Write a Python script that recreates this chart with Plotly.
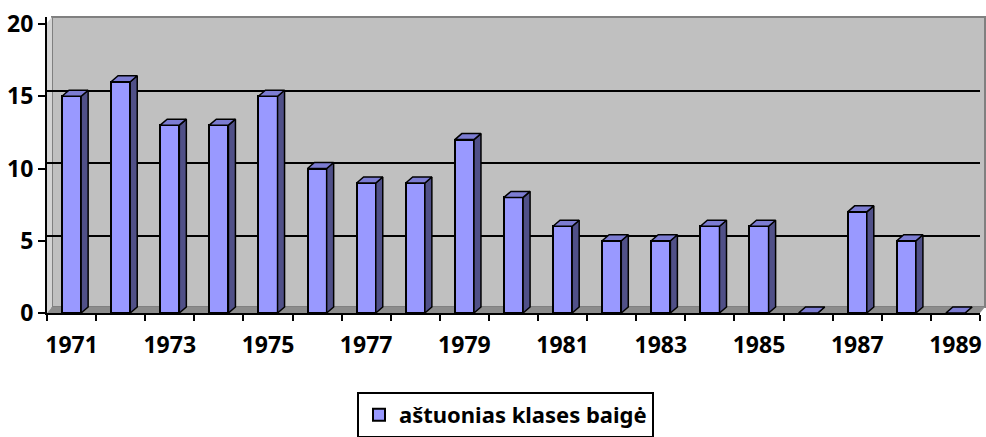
import plotly.graph_objects as go

years = [1971, 1972, 1973, 1974, 1975, 1976, 1977, 1978, 1979, 1980,
         1981, 1982, 1983, 1984, 1985, 1986, 1987, 1988, 1989]
values = [15, 16, 13, 13, 15, 10, 9, 9, 12, 8, 6, 5, 5, 6, 6, 0, 7, 5, 0]
y_ticks = [0, 5, 10, 15, 20]
series_name = "aštuonias klases baigė"

FIG_W, FIG_H = 986, 437

# geometry (pixels) of the plot area
L, R, T, B = 47, 980, 17, 313
W, H = R - L, B - T
PX_PER_UNIT = 14.45
YMAX = H / PX_PER_UNIT
DEPTH_X = 7 / (W / len(years))   # 3D depth in category units
DEPTH_Y = 6 / PX_PER_UNIT        # 3D depth in value units
BAR_W = 0.39

FRONT = "#9999FF"
TOP = "#7C7CD2"
SIDE = "#505088"

def px(x):
    return (x - L) / W

def py(y):
    return (B - y) / H

idx = list(range(len(years)))

# side and top faces built from the data
top_x, top_y, side_x, side_y = [], [], [], []
for i, v in zip(idx, values):
    x0, x1 = i - BAR_W / 2, i + BAR_W / 2
    top_x += [x0, x1, x1 + DEPTH_X, x0 + DEPTH_X, x0, None]
    top_y += [v, v, v + DEPTH_Y, v + DEPTH_Y, v, None]
    side_x += [x1, x1 + DEPTH_X, x1 + DEPTH_X, x1, x1, None]
    side_y += [0, DEPTH_Y, v + DEPTH_Y, v, 0, None]

fig = go.Figure()
fig.add_trace(go.Scatter(x=[None], y=[None], yaxis="y2", showlegend=False,
                         hoverinfo="skip", mode="none"))
fig.add_trace(go.Scatter(x=side_x, y=side_y, mode="lines", fill="toself",
                         fillcolor=SIDE, line=dict(color="black", width=1.5),
                         showlegend=False, hoverinfo="skip"))
fig.add_trace(go.Scatter(x=top_x, y=top_y, mode="lines", fill="toself",
                         fillcolor=TOP, line=dict(color="black", width=1.5),
                         showlegend=False, hoverinfo="skip"))
fig.add_trace(go.Bar(x=idx, y=values, width=BAR_W, name=series_name,
                     marker=dict(color=FRONT, line=dict(color="black", width=2))))

shapes = [
    # back wall
    dict(type="rect", xref="paper", yref="paper",
         x0=px(52), x1=px(985), y0=py(307), y1=py(17),
         fillcolor="#C0C0C0", line=dict(color="#808080", width=2), layer="below"),
    # left side wall
    dict(type="path", xref="paper", yref="paper",
         path=f"M {px(47)},{py(313)} L {px(52)},{py(307)} L {px(52)},{py(17)} L {px(47)},{py(23)} Z",
         fillcolor="#D4D4D4", line=dict(width=0), layer="below"),
    # floor
    dict(type="path", xref="paper", yref="paper",
         path=f"M {px(47)},{py(313)} L {px(52)},{py(307)} L {px(985)},{py(307)} L {px(980)},{py(313)} Z",
         fillcolor="#8C8C8C", line=dict(width=0), layer="below"),
]

font_family = "Noto Sans, Liberation Sans, sans-serif"
tick_font = dict(family=font_family, size=23, color="black", weight="bold")

fig.update_layout(
    width=FIG_W, height=FIG_H,
    margin=dict(l=L, r=FIG_W - R, t=T, b=FIG_H - B, autoexpand=False),
    paper_bgcolor="white", plot_bgcolor="white",
    shapes=shapes,
    bargap=0,
    xaxis=dict(range=[-0.5, len(years) - 0.5], tickmode="array",
               tickvals=idx[::2], ticktext=[str(y) for y in years[::2]],
               ticks="", showline=True, linecolor="black", linewidth=2,
               showgrid=False, zeroline=False, ticklabelstandoff=10,
               ticklabeloverflow="allow",
               automargin=False, tickfont=tick_font,
               minor=dict(tickmode="linear", tick0=-0.5, dtick=1, ticks="outside",
                          ticklen=6, tickwidth=2, tickcolor="black", showgrid=False)),
    yaxis=dict(range=[0, YMAX], tickmode="array", tickvals=y_ticks,
               showline=True, linecolor="black", linewidth=2,
               ticks="outside", ticklen=7, tickwidth=2, tickcolor="black",
               showgrid=False, zeroline=False, ticklabelstandoff=0,
               ticklabeloverflow="allow",
               automargin=False, tickfont=tick_font),
    yaxis2=dict(range=[-DEPTH_Y * 0.85, YMAX - DEPTH_Y * 0.85], overlaying="y",
                anchor="x", tickmode="array", tickvals=y_ticks[1:-1],
                showgrid=True, gridcolor="black", gridwidth=2, automargin=False,
                showticklabels=False, ticks="", showline=False, zeroline=False),
    legend=dict(x=px(357), y=py(392), xanchor="left", yanchor="top",
                bgcolor="white", bordercolor="black", borderwidth=2,
                itemwidth=30,
                font=dict(family=font_family, size=22, color="black", weight="bold")),
    showlegend=True,
)

fig.write_html("out.html", config={"displayModeBar": False},
               post_script="document.body.style.margin='0';document.body.style.overflow='hidden';")
